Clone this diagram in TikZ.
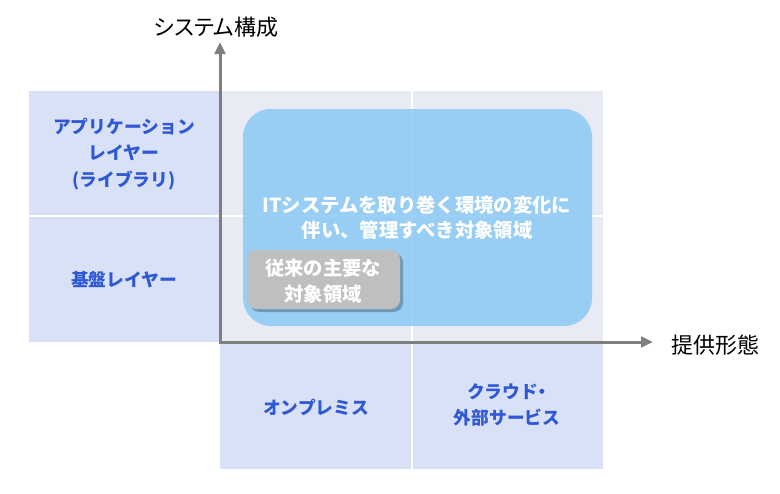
\documentclass[tikz,border=0pt]{standalone}
\usepackage{fontspec}
\setmainfont{Noto Sans CJK JP}
\newfontfamily\jpfont{Noto Sans CJK JP}
\newfontfamily\jpprop{Noto Sans CJK JP}[RawFeature=+palt]
\usetikzlibrary{arrows.meta}
\definecolor{cellblue}{RGB}{217,225,247}
\definecolor{gridgrey}{RGB}{232,235,244}
\definecolor{areablue}{RGB}{139,200,245}
\definecolor{labelblue}{RGB}{47,88,212}
\definecolor{axisgrey}{RGB}{127,127,127}
\tikzset{
  celltext/.style={text=labelblue, font=\jpfont\bfseries\fontsize{13.3}{20}\selectfont, align=center},
  areatext/.style={text=white, font=\jpfont\bfseries\fontsize{14.5}{19}\selectfont, align=center},
  axistext/.style={text=black, font=\jpprop\fontsize{16.5}{18}\selectfont}
}
\begin{document}
\begin{tikzpicture}[x=0.75pt,y=-0.75pt]
			\def \xl{29}
			\def \xo{220}
			\def \xm{412}
			\def \xr{603}
			\def \yt{91}
			\def \ym{216}
			\def \yo{342}
			\def \yb{469}
			\useasboundingbox (0,0) rectangle (780,493);
			% cells
			\fill[gridgrey] (\xo,\yt) rectangle (\xr,\yo);
			\fill[cellblue] (\xl,\yt) rectangle (\xo,\yo);
			\fill[cellblue] (\xo,\yo) rectangle (\xr,\yb);
			\draw[white, line width=0.9pt] (\xl,\ym) -- (\xr,\ym);
			\draw[white, line width=0.9pt] (\xm,\yt) -- (\xm,\yb);
			% areas
			\fill[areablue, fill opacity=0.85, rounded corners=21pt] (243,109) rectangle (592,326);
			\fill[black, opacity=0.25, rounded corners=7pt] (250,253) rectangle (403,312);
			\fill[gray!50, rounded corners=7pt] (247,250) rectangle (400,309);
			\node[areatext] (wide) at (417,218) {ITシステムを取り巻く環境の変化に\\伴い、管理すべき対象領域};
			\node[areatext] (narrow) at (323,281) {従来の主要な\\対象領域};
			% labels
			\node[celltext] (app) at (124,154) {アプリケーション\\レイヤー\\(ライブラリ)};
			\node[celltext] (base) at (124,280) {基盤レイヤー};
			\node[celltext] (onprem) at (316,407) {オンプレミス};
			\node[celltext] (cloud) at (507,405) {クラウド{\jpprop・}\\外部サービス};
			% axes
			\coordinate (origin) at (\xo,\yo);
			\coordinate (ytip) at (\xo,42);
			\coordinate (xtip) at (653,\yo);
			\draw[axisgrey, line width=2.25pt, {Triangle[length=9pt,width=8pt]}-{Triangle[length=9pt,width=8pt]}] (ytip) -- (origin) -- (xtip);
			\node[axistext] (ylabel) at (216,27) {システム構成};
			\node[axistext, anchor=west] (xlabel) at (667,345) {提供形態};
		\end{tikzpicture}
\end{document}
